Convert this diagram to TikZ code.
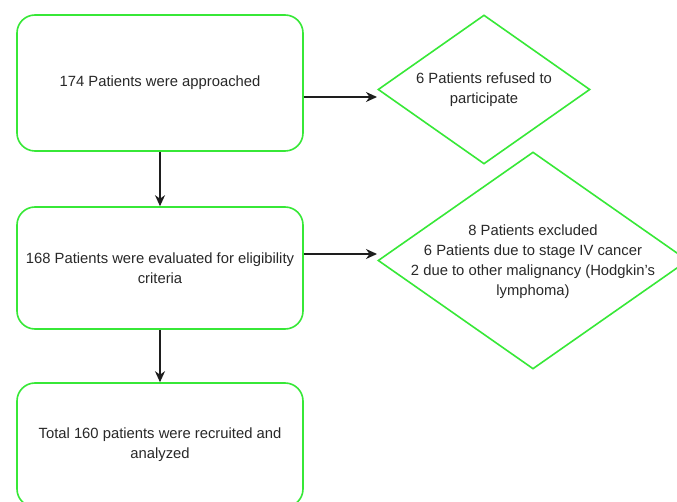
\documentclass[tikz,border=0pt]{standalone}
\usepackage{fontspec}
\setmainfont{Liberation Sans}
\usetikzlibrary{shapes.geometric,arrows.meta}
\definecolor{boxgreen}{RGB}{55,232,55}
\definecolor{txtgray}{RGB}{40,40,40}
\definecolor{arrgray}{RGB}{30,30,30}
\begin{document}
\begin{tikzpicture}[x=1pt,y=-1pt,
 box/.style={draw=boxgreen,line width=1.6pt,rounded corners=18pt,minimum width=286pt,inner sep=0pt,
   text=txtgray,align=center,font=\fontsize{14.8}{20}\selectfont},
 dia/.style={draw=boxgreen,line width=1.6pt,diamond,inner sep=0pt},
 txt/.style={text=txtgray,align=center,font=\fontsize{14.8}{20}\selectfont,inner sep=0pt},
 arr/.style={draw=arrgray,line width=1.4pt,-{Stealth[length=11pt,width=10pt,inset=3.5pt]}}]
\useasboundingbox (0,0) rectangle (677,502);
\clip (0,0) rectangle (677,502);
\fill[white] (0,0) rectangle (677,502);
% boxes
\node[box,minimum height=136pt] (b1) at (160,83) {174 Patients were approached};
\node[box,minimum height=122pt] (b2) at (160,268) {168 Patients were evaluated for eligibility\\criteria};
\node[box,minimum height=124pt] (b3) at (160,445) {Total 160 patients were recruited and\\analyzed};
% diamonds
\node[dia,minimum width=212pt,minimum height=149pt] (d1) at (484,89.5) {};
\node[txt] (t1) at (484,90) {6 Patients refused to\\participate};
\node[dia,minimum width=310pt,minimum height=217pt] (d2) at (533,260.5) {};
\node[txt] (t2) at (533,262) {8 Patients excluded\\6 Patients due to stage IV cancer\\2 due to other malignancy (Hodgkin's\\lymphoma)};
% connectors
\coordinate (a1) at (377,97);
\coordinate (a2) at (377,254);
\draw[arr] (b1.east |- a1) -- (a1);
\draw[arr] (b2.east |- a2) -- (a2);
\draw[arr] (b1.south) -- (b2.north);
\draw[arr] (b2.south) -- (b3.north);
\end{tikzpicture}
\end{document}
